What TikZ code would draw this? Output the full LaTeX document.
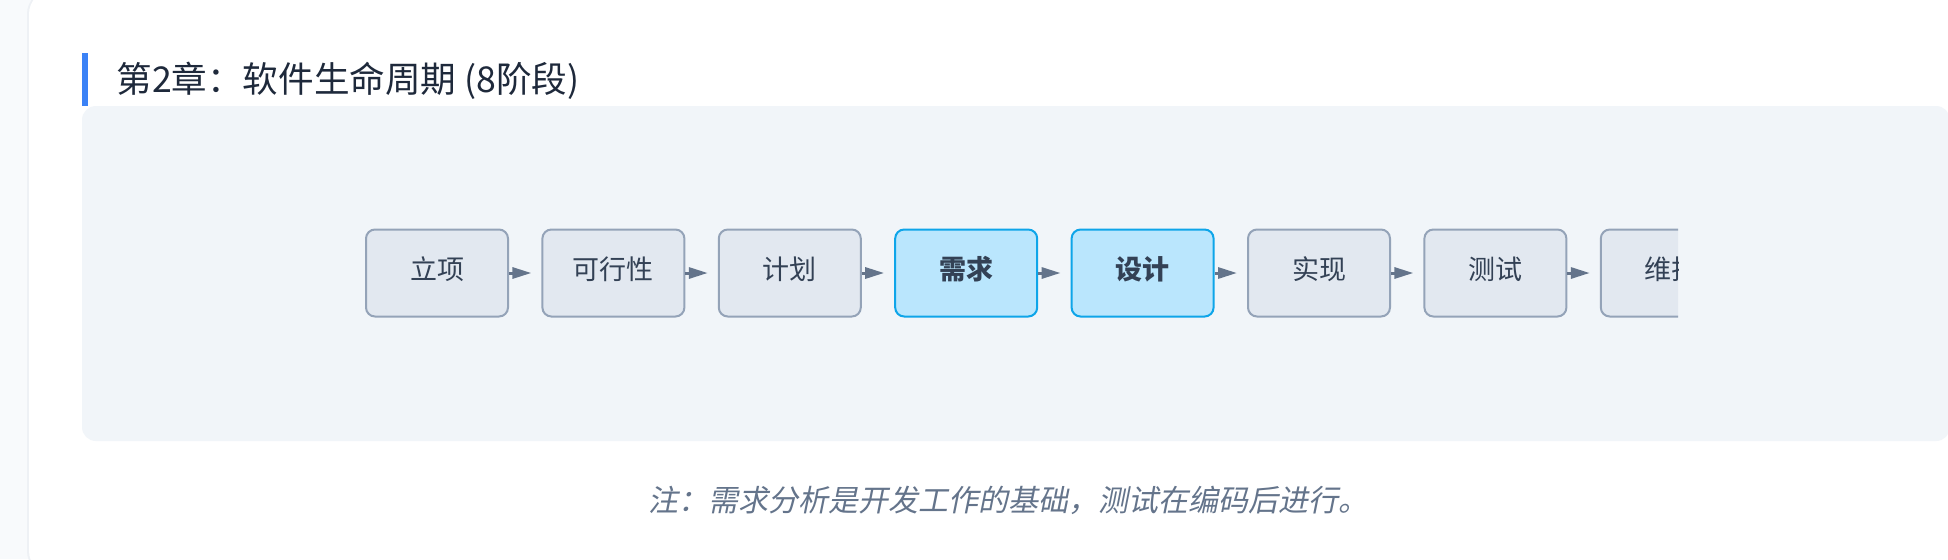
\documentclass[tikz,border=0pt]{standalone}
\usepackage{fontspec}
\setmainfont{Noto Sans CJK SC}[AutoFakeSlant=0.2]
\definecolor{pagebg}{HTML}{F8FAFC}
\definecolor{cardedge}{HTML}{EEF1F5}
\definecolor{panelbg}{HTML}{F1F5F9}
\definecolor{barblue}{HTML}{3B82F6}
\definecolor{titleink}{HTML}{1E293B}
\definecolor{stagefill}{HTML}{E2E8F0}
\definecolor{stageline}{HTML}{94A3B8}
\definecolor{stageink}{HTML}{334155}
\definecolor{focusfill}{HTML}{BAE6FD}
\definecolor{focusline}{HTML}{0EA5E9}
\definecolor{arrowgrey}{HTML}{64748B}
\usetikzlibrary{arrows.meta,positioning}

\begin{document}
\begin{tikzpicture}[
    x=0.5pt, y=-0.5pt,
    node distance=16.2pt,
    stage/.style={rectangle, rounded corners=4.5pt, draw=stageline, line width=1pt, fill=stagefill,
                minimum width=71pt, minimum height=43.5pt, inner sep=0pt, align=center,
                text=stageink, text height=0.8em, text depth=0.16em, font=\fontsize{13.5}{16}\selectfont},
    focus/.style={stage, draw=focusline, fill=focusfill, text=stageink,
                font=\fontsize{13.5}{16}\selectfont\bfseries},
    flow/.style={-{Triangle[length=9.5pt,width=5.5pt]}, line width=1.5pt, arrowgrey, shorten >=5pt}
]
    % page, card and panel
    \useasboundingbox (0,0) rectangle (1948,559);
    \fill[pagebg] (0,0) rectangle (1948,559);
    \fill[cardedge, rounded corners=12pt] (27,-10) rectangle (1990,575);
    \fill[white, rounded corners=12pt] (29,-10) rectangle (1990,575);
    \fill[barblue] (82,53) rectangle (88,106);
    \node[anchor=west, inner sep=0pt, text=titleink, font=\fontsize{17.8}{20}\selectfont] (title)
        at (116,81) {第2章：软件生命周期 (8阶段)};
    \fill[panelbg, rounded corners=7pt] (82,106) rectangle (1950,441);

    % stages, cut off at the right
    \begin{scope}
    \clip (82,106) rectangle (1678,441);
    \node[stage] (lixiang) at (437,273) {立项};
    \node[stage, right=of lixiang] (kexing) {可行性};
    \node[stage, right=of kexing] (jihua) {计划};
    \node[focus, right=of jihua] (xuqiu) {需求};
    \node[focus, right=of xuqiu] (sheji) {设计};
    \node[stage, right=of sheji] (shixian) {实现};
    \node[stage, right=of shixian] (ceshi) {测试};
    \node[stage, right=of ceshi] (weihu) {维护};

    \draw[flow] (lixiang) -- (kexing);
    \draw[flow] (kexing) -- (jihua);
    \draw[flow] (jihua) -- (xuqiu);
    \draw[flow] (xuqiu) -- (sheji);
    \draw[flow] (sheji) -- (shixian);
    \draw[flow] (shixian) -- (ceshi);
    \draw[flow] (ceshi) -- (weihu);
    \end{scope}

    \node[text=arrowgrey, font=\fontsize{15}{18}\selectfont\itshape] (note)
        at (1008,500) {注：需求分析是开发工作的基础，测试在编码后进行。};
\end{tikzpicture}
\end{document}
